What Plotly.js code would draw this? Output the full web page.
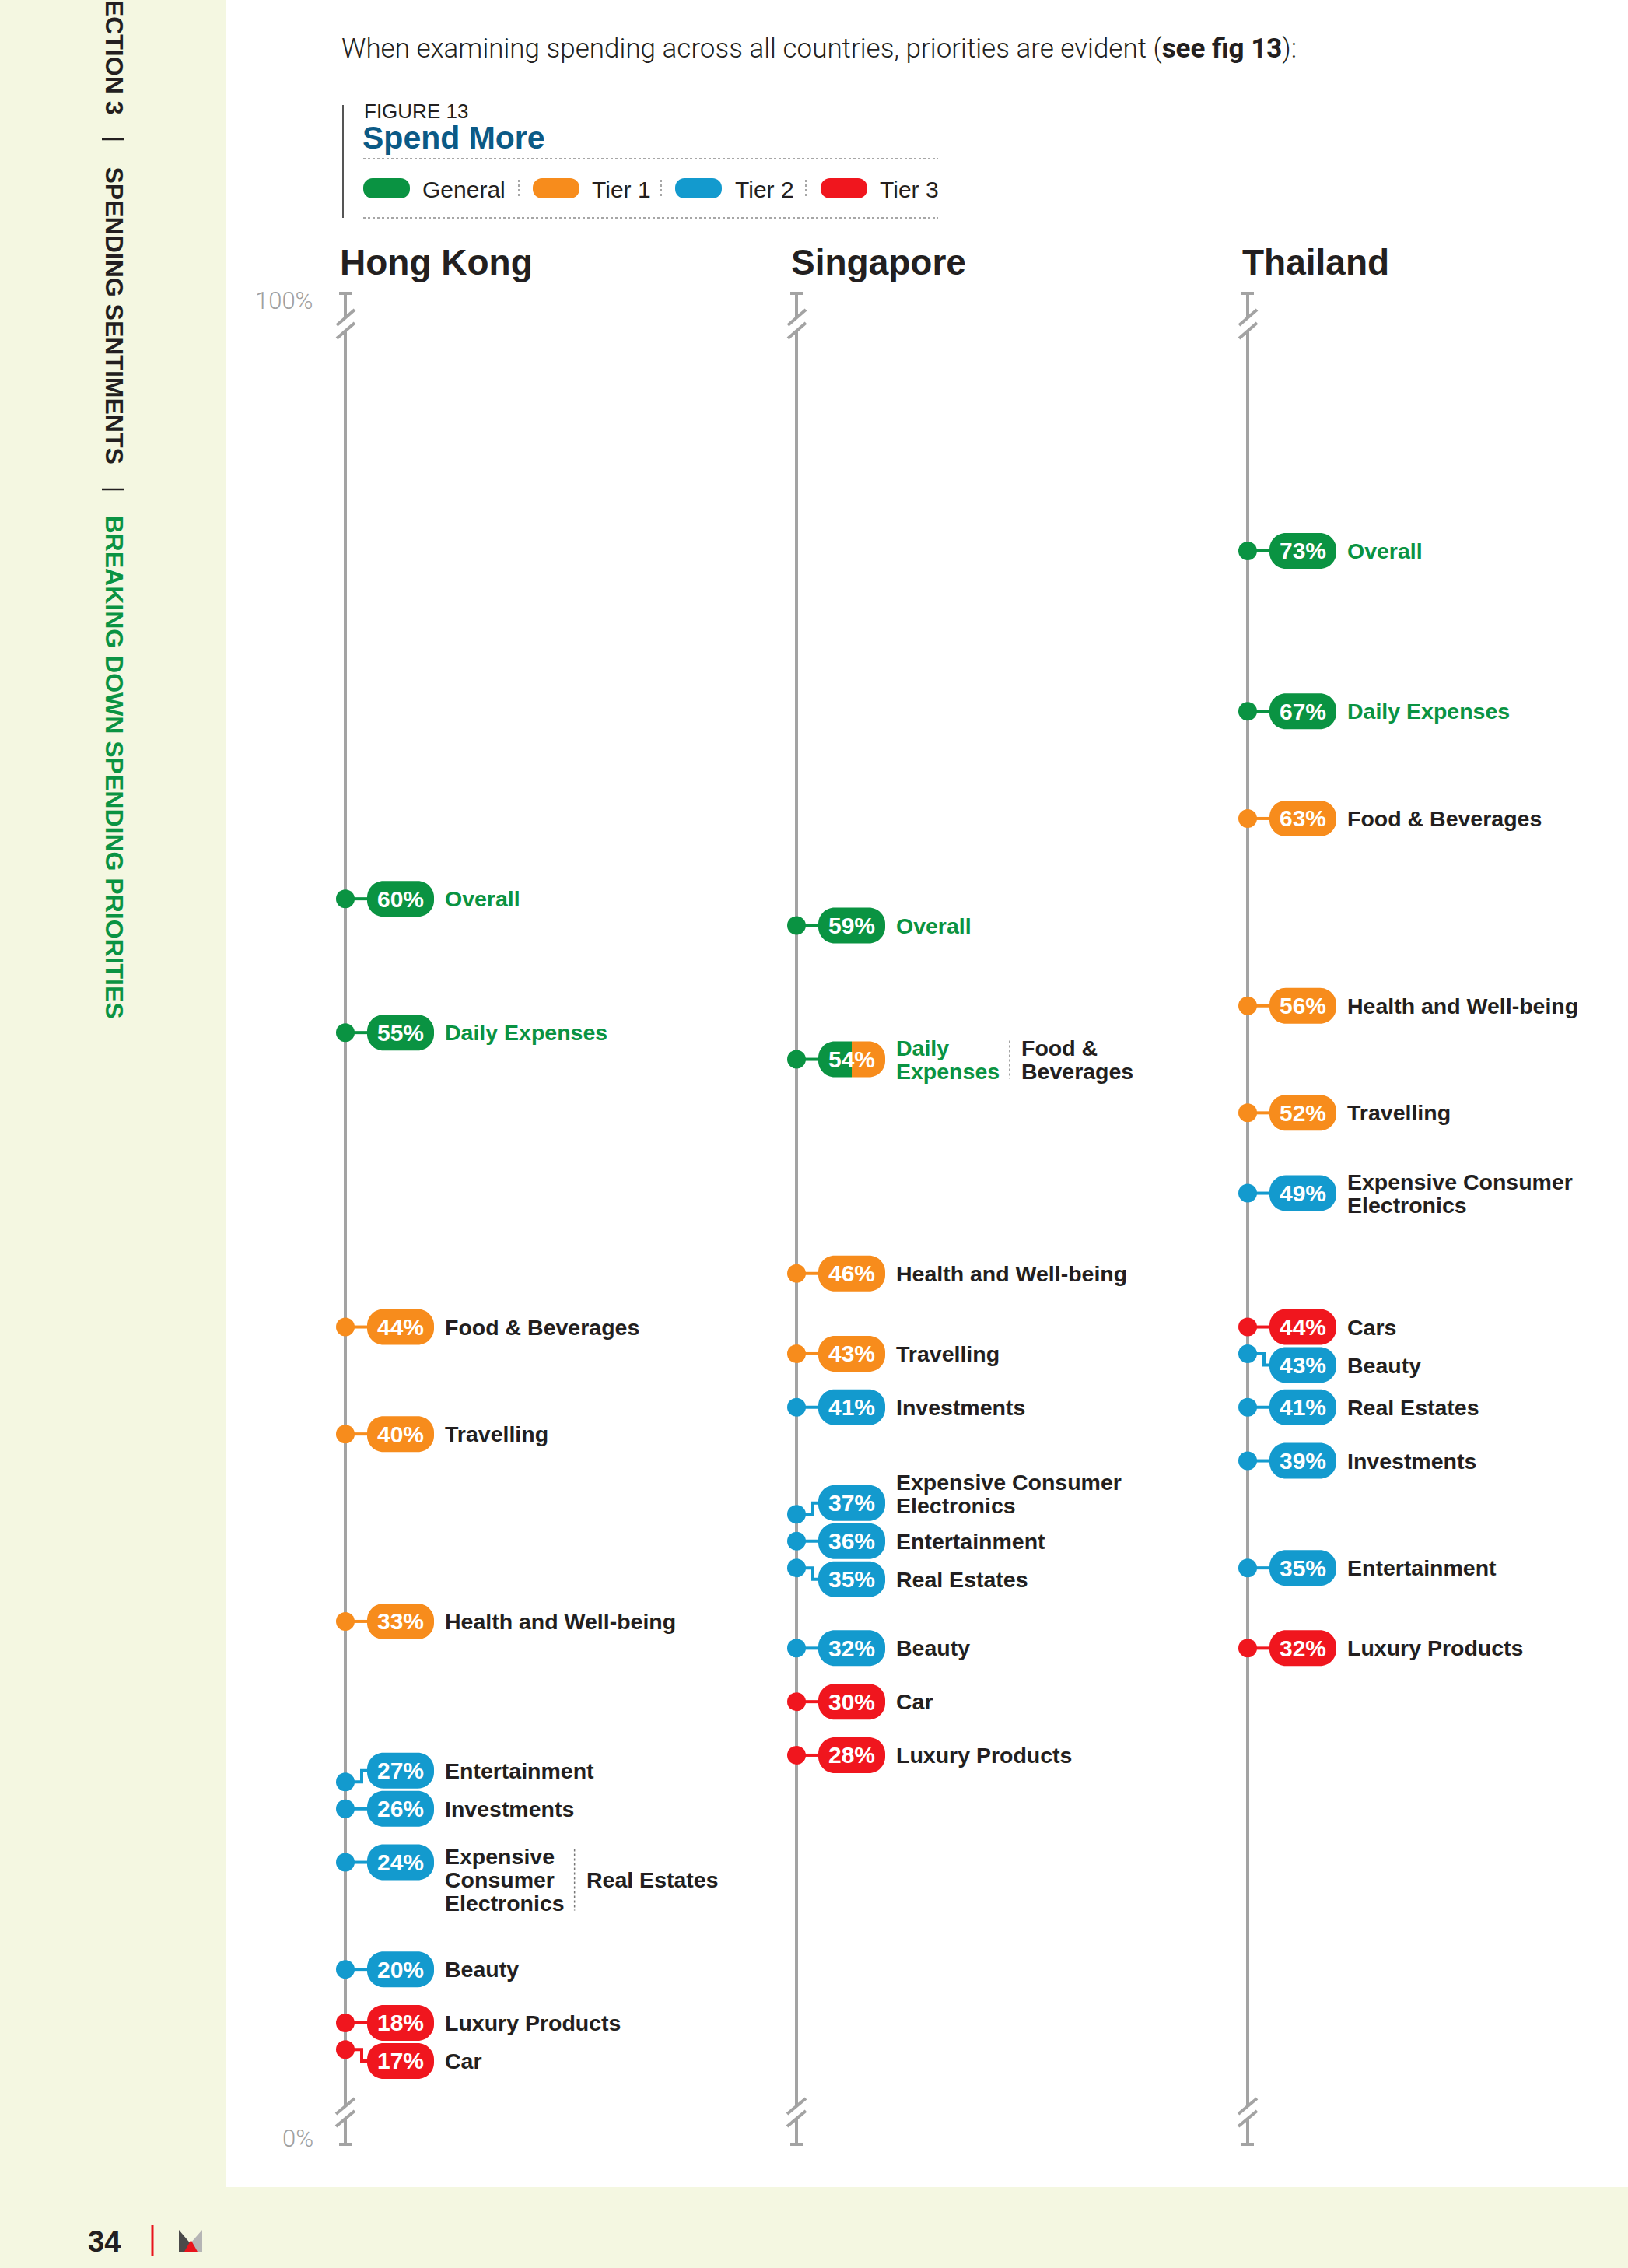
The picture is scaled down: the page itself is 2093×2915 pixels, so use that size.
<!DOCTYPE html>
<html>
<head>
<meta charset="utf-8">
<script src="https://cdn.plot.ly/plotly-3.0.1.min.js"></script>
<style>
  html, body { margin: 0; padding: 0; background: #f4f7e1; }
  #chart { width: 2093px; height: 2915px; }
</style>
</head>
<body>
<div id="chart"></div>
<script>
// ---------------- data ----------------
const countries = ['Hong Kong', 'Singapore', 'Thailand'];
const tierNames = ['General', 'Tier 1', 'Tier 2', 'Tier 3'];

const hkLabels = ['Overall', 'Daily Expenses', 'Food & Beverages', 'Travelling', 'Health and Well-being',
  'Entertainment', 'Investments', 'Expensive Consumer Electronics', 'Real Estates', 'Beauty',
  'Luxury Products', 'Car'];
const hkValues = [60, 55, 44, 40, 33, 27, 26, 24, 24, 20, 18, 17];
const hkTiers = ['General', 'General', 'Tier 1', 'Tier 1', 'Tier 1', 'Tier 2', 'Tier 2', 'Tier 2',
  'Tier 2', 'Tier 2', 'Tier 3', 'Tier 3'];

const sgLabels = ['Overall', 'Daily Expenses', 'Food & Beverages', 'Health and Well-being', 'Travelling',
  'Investments', 'Expensive Consumer Electronics', 'Entertainment', 'Real Estates', 'Beauty', 'Car',
  'Luxury Products'];
const sgValues = [59, 54, 54, 46, 43, 41, 37, 36, 35, 32, 30, 28];
const sgTiers = ['General', 'General', 'Tier 1', 'Tier 1', 'Tier 1', 'Tier 2', 'Tier 2', 'Tier 2',
  'Tier 2', 'Tier 2', 'Tier 3', 'Tier 3'];

const thLabels = ['Overall', 'Daily Expenses', 'Food & Beverages', 'Health and Well-being', 'Travelling',
  'Expensive Consumer Electronics', 'Cars', 'Beauty', 'Real Estates', 'Investments', 'Entertainment',
  'Luxury Products'];
const thValues = [73, 67, 63, 56, 52, 49, 44, 43, 41, 39, 35, 32];
const thTiers = ['General', 'General', 'Tier 1', 'Tier 1', 'Tier 1', 'Tier 2', 'Tier 3', 'Tier 2',
  'Tier 2', 'Tier 2', 'Tier 2', 'Tier 3'];

const axisTickLabels = ['100%', '0%'];

// ---------------- styling & layout constants ----------------
const W = 2093, H = 2915;
const SANS = '"Liberation Sans", Arial, sans-serif';
const LIGHT = 'Roboto, "Liberation Sans", sans-serif';
const INK = '#231f20';
const GREY = '#a3a3a3';
const CREAM = '#f4f7e1';
const tierColors = { 'General': '#0a9342', 'Tier 1': '#f78c1c', 'Tier 2': '#139ace', 'Tier 3': '#f0161e' };

const columnX = [444, 1024, 1604];          // axis position of each country column (px)
const PX_PER_PCT = 34.4;                    // vertical scale of the (broken) percentage axis
const Y_TOP = 93.58;                        // value sitting at the top edge of the page
const yRange = [Y_TOP - H / PX_PER_PCT, Y_TOP];
const vToPx = v => (Y_TOP - v) * PX_PER_PCT;
const pxToV = p => Y_TOP - p / PX_PER_PCT;

const PILL_GAP = 49, LINE = 30, LABEL_SIZE = 28.5;
// label block alignment for multi-line labels, and pills that stay level with their dot when crowded
const labelAnchors = { 'Hong Kong|24': 'top', 'Singapore|37': 'bottom' };
const pinnedPills = ['Hong Kong|26', 'Hong Kong|18', 'Singapore|36', 'Thailand|44'];

const shapes = [];
const annotations = [];

// ---------------- helpers ----------------
const fx = v => (v / W).toFixed(6);
const fy = v => (1 - v / H).toFixed(6);
const paperPt = (x, y) => fx(x) + ',' + fy(y);
const pixelPt = (x, y) => x.toFixed(2) + ',' + (-y).toFixed(2);

function roundRect(l, r, t, b, rL, rR, map) {
  const k = 0.5523;
  return 'M' + map(l + rL, t) +
    ' L' + map(r - rR, t) +
    ' C' + map(r - rR + k * rR, t) + ' ' + map(r, t + rR - k * rR) + ' ' + map(r, t + rR) +
    ' L' + map(r, b - rR) +
    ' C' + map(r, b - rR + k * rR) + ' ' + map(r - rR + k * rR, b) + ' ' + map(r - rR, b) +
    ' L' + map(l + rL, b) +
    ' C' + map(l + rL - k * rL, b) + ' ' + map(l, b - rL + k * rL) + ' ' + map(l, b - rL) +
    ' L' + map(l, t + rL) +
    ' C' + map(l, t + rL - k * rL) + ' ' + map(l + rL - k * rL, t) + ' ' + map(l + rL, t) + ' Z';
}

function seg(x0, y0, x1, y1, color, width, dash) {
  shapes.push({ type: 'line', xref: 'paper', yref: 'paper', x0: x0 / W, y0: 1 - y0 / H, x1: x1 / W, y1: 1 - y1 / H,
    line: { color: color, width: width, dash: dash || 'solid' }, layer: 'below' });
}

function poly(pts, fill, layer) {
  shapes.push({ type: 'path', xref: 'paper', yref: 'paper',
    path: 'M' + pts.map(p => paperPt(p[0], p[1])).join(' L') + ' Z',
    fillcolor: fill, line: { width: 0 }, layer: layer || 'above' });
}

function note(text, x, y, o) {
  annotations.push(Object.assign({
    text: text, x: x / W, y: 1 - y / H, xref: 'paper', yref: 'paper', showarrow: false,
    xanchor: 'left', yanchor: 'middle', font: { family: SANS, size: 28, color: INK }
  }, o || {}));
}

const ctx = document.createElement('canvas').getContext('2d');
function textWidth(s) {
  ctx.font = 'bold ' + LABEL_SIZE + 'px "Liberation Sans"';
  return ctx.measureText(s).width;
}
function wrap(text, maxW) {
  const lines = [];
  let cur = '';
  text.split(' ').forEach(w => {
    const t = cur ? cur + ' ' + w : w;
    if (cur && textWidth(t) > maxW) { lines.push(cur); cur = w; } else { cur = t; }
  });
  if (cur) lines.push(cur);
  return lines;
}

// items sharing one value share one pill
function groupPills(labels, values, tiers) {
  const order = values.map((v, i) => i).sort((a, b) => values[b] - values[a]);
  const pills = [];
  order.forEach(i => {
    const last = pills[pills.length - 1];
    if (last && last.value === values[i]) last.parts.push({ label: labels[i], tier: tiers[i] });
    else pills.push({ value: values[i], parts: [{ label: labels[i], tier: tiers[i] }] });
  });
  return pills;
}

// push overlapping pills apart; a crowded group keeps its pinned pill level with its dot,
// otherwise it is centred on the mean of its values
function spreadPills(pills, gap, country) {
  const clusters = pills.map(p => ({ items: [p] }));
  const place = c => {
    const j = c.items.findIndex(p => pinnedPills.includes(country + '|' + p.value));
    if (j >= 0) {
      c.start = vToPx(c.items[j].value) - j * gap;
    } else {
      const mean = c.items.reduce((s, p) => s + vToPx(p.value), 0) / c.items.length;
      c.start = mean - (c.items.length - 1) / 2 * gap;
    }
  };
  clusters.forEach(place);
  let merged = true;
  while (merged) {
    merged = false;
    for (let i = 0; i < clusters.length - 1; i++) {
      const a = clusters[i], b = clusters[i + 1];
      const aEnd = a.start + (a.items.length - 1) * gap;
      if (b.start - aEnd < gap) {
        a.items = a.items.concat(b.items);
        place(a);
        clusters.splice(i + 1, 1);
        merged = true;
        break;
      }
    }
  }
  clusters.forEach(c => c.items.forEach((p, k) => { p.py = c.start + k * gap; }));
}

// ---------------- page background ----------------
poly([[291, 0], [W, 0], [W, 2811], [291, 2811]], '#ffffff', 'below');

// side running head
note('SECTION 3', 146.5, 63, { xanchor: 'center', textangle: 90, font: { family: SANS, size: 32, color: INK, weight: 'bold' } });
seg(131, 179, 160, 179, INK, 2.5);
note('SPENDING SENTIMENTS', 146.5, 405, { xanchor: 'center', textangle: 90, font: { family: SANS, size: 32, color: INK, weight: 'bold' } });
seg(131, 629, 160, 629, INK, 2.5);
note('BREAKING DOWN SPENDING PRIORITIES', 146.5, 986, { xanchor: 'center', textangle: 90, font: { family: SANS, size: 32, color: tierColors['General'], weight: 'bold' } });

// footer
note('34', 134, 2881, { xanchor: 'center', font: { family: SANS, size: 38, color: INK, weight: 'bold' } });
seg(196, 2860, 196, 2900, '#e8141c', 3);
poly([[230, 2866], [247, 2886], [238, 2894], [230, 2894]], '#4a4a4a');
poly([[260, 2866], [260, 2894], [254, 2894], [245, 2883]], '#b5b5b5');
poly([[237, 2894], [245.5, 2879], [254, 2894]], '#e8141c');
seg(241, 2894, 246, 2885, '#ffffff', 1.5);
seg(246, 2894, 249, 2889, '#ffffff', 1.5);

// intro sentence
note('When examining spending across all countries, priorities are evident (<b>see fig 13</b>):', 437, 63,
  { font: { family: LIGHT, size: 35, color: INK, weight: 300 } });

// figure heading and legend
seg(441, 135, 441, 280, '#555555', 2);
note('FIGURE 13', 466, 143, { font: { family: SANS, size: 26, color: INK } });
note('Spend More', 464, 177, { font: { family: SANS, size: 41, color: '#0b5a86', weight: 'bold' } });
seg(467, 204, 1206, 204, '#8a8a8a', 1.5, 'dot');
seg(467, 280, 1206, 280, '#8a8a8a', 1.5, 'dot');
const legendPillX = [467, 685, 868, 1055];
const legendTextX = [541, 759, 943, 1129];
const legendSepX = [667, 850, 1036];
tierNames.forEach((t, i) => {
  shapes.push({ type: 'path', xref: 'paper', yref: 'paper', layer: 'above',
    path: roundRect(legendPillX[i], legendPillX[i] + 60, 229, 255, 12, 12, paperPt),
    fillcolor: tierColors[t], line: { width: 0 } });
  note(t, legendTextX[i], 243, { font: { family: SANS, size: 30, color: INK } });
});
legendSepX.forEach(x => seg(x, 231, x, 255, '#8a8a8a', 1.5, 'dot'));

// ---------------- broken percentage axes ----------------
columnX.forEach(ax => {
  seg(ax - 8, 377, ax + 8, 377, GREY, 4);
  seg(ax, 377, ax, 408, GREY, 4);
  seg(ax - 11, 418, ax + 12, 398, GREY, 4);
  seg(ax - 11, 435, ax + 12, 415, GREY, 4);
  seg(ax, 425, ax, 2707, GREY, 4);
  seg(ax - 12, 2717, ax + 12, 2697, GREY, 4);
  seg(ax - 12, 2733, ax + 12, 2713, GREY, 4);
  seg(ax, 2723, ax, 2756, GREY, 4);
  seg(ax - 8, 2756, ax + 8, 2756, GREY, 4);
});
note(axisTickLabels[0], 405, 387, { xanchor: 'right', font: { family: LIGHT, size: 31, color: '#a0a0a0', weight: 300 } });
note(axisTickLabels[1], 405, 2748, { xanchor: 'right', font: { family: LIGHT, size: 31, color: '#a0a0a0', weight: 300 } });

// ---------------- columns ----------------
const countryData = [
  { labels: hkLabels, values: hkValues, tiers: hkTiers },
  { labels: sgLabels, values: sgValues, tiers: sgTiers },
  { labels: thLabels, values: thValues, tiers: thTiers }
];

const dotX = [], dotY = [], dotC = [], dotText = [];

countryData.forEach((cd, ci) => {
  const ax = columnX[ci];
  const country = countries[ci];
  note(country, ax - 9, 337, { font: { family: SANS, size: 46, color: INK, weight: 'bold' } });

  const pills = groupPills(cd.labels, cd.values, cd.tiers);
  spreadPills(pills, PILL_GAP, country);

  pills.forEach(p => {
    const yv = pxToV(p.py);
    const mainColor = tierColors[p.parts[0].tier];
    dotX.push(ax); dotY.push(p.value); dotC.push(mainColor);
    dotText.push(country + ': ' + p.parts.map(pt => pt.label).join(', ') + ' ' + p.value + '%');

    // connector from the axis dot to the pill
    const shifted = Math.abs(p.py - vToPx(p.value)) > 0.5;
    const path = shifted
      ? 'M' + ax + ',' + p.value + ' L' + (ax + 21) + ',' + p.value + ' L' + (ax + 21) + ',' + yv + ' L' + (ax + 32) + ',' + yv
      : 'M' + ax + ',' + p.value + ' L' + (ax + 32) + ',' + p.value;
    shapes.push({ type: 'path', xref: 'x', yref: 'y', path: path, line: { color: mainColor, width: 4 }, layer: 'below' });

    // value pill (split in two colours when it carries two tiers)
    const pillTiers = [...new Set(p.parts.map(pt => pt.tier))];
    const L = ax + 28, R = ax + 114, M = (L + R) / 2;
    const pillBase = { type: 'path', xref: 'x', yref: 'y', xsizemode: 'pixel', ysizemode: 'pixel',
      xanchor: ax, yanchor: yv, line: { width: 0 }, layer: 'above' };
    if (pillTiers.length === 1) {
      shapes.push(Object.assign({}, pillBase, { path: roundRect(L - ax, R - ax, -23, 23, 21, 21, pixelPt), fillcolor: mainColor }));
    } else {
      shapes.push(Object.assign({}, pillBase, { path: roundRect(L - ax, M - ax, -23, 23, 21, 0, pixelPt), fillcolor: tierColors[pillTiers[0]] }));
      shapes.push(Object.assign({}, pillBase, { path: roundRect(M - ax, R - ax, -23, 23, 0, 21, pixelPt), fillcolor: tierColors[pillTiers[1]] }));
    }
    annotations.push({ text: p.value + '%', x: ax + 71, y: yv, xref: 'x', yref: 'y', showarrow: false,
      xanchor: 'center', yanchor: 'middle', font: { family: SANS, size: 30, color: '#ffffff', weight: 'bold' } });

    // category labels
    const combined = p.parts.length > 1;
    const parts = p.parts.map(pt => ({ tier: pt.tier, lines: wrap(pt.label, combined ? 190 : 400) }));
    const align = labelAnchors[country + '|' + p.value] || 'center';
    const n0 = parts[0].lines.length;
    const off0 = parts[0].lines.map((_, i) =>
      align === 'top' ? -8 + i * LINE : align === 'bottom' ? 3 - (n0 - 1 - i) * LINE : (i - (n0 - 1) / 2) * LINE);
    const mid0 = (off0[0] + off0[n0 - 1]) / 2;
    let x = ax + 126;
    parts.forEach((part, k) => {
      const n = part.lines.length;
      const offs = k === 0 ? off0 : part.lines.map((_, i) => mid0 + (i - (n - 1) / 2) * LINE);
      const color = part.tier === 'General' ? tierColors['General'] : INK;
      part.lines.forEach((ln, i) => {
        annotations.push({ text: ln, x: x, y: pxToV(p.py + offs[i]), xref: 'x', yref: 'y', showarrow: false,
          xanchor: 'left', yanchor: 'middle', font: { family: SANS, size: LABEL_SIZE, color: color, weight: 'bold' } });
      });
      if (k < parts.length - 1) {
        const w = Math.max(...part.lines.map(textWidth));
        const sx = x + w + 15;
        const allOffs = off0.concat(parts.slice(1).flatMap(pp => pp.lines.map((_, i) => mid0 + (i - (pp.lines.length - 1) / 2) * LINE)));
        const top = p.py + Math.min(...allOffs) - 9, bot = p.py + Math.max(...allOffs) + 10;
        shapes.push({ type: 'line', xref: 'x', yref: 'y', x0: sx, x1: sx, y0: pxToV(top), y1: pxToV(bot),
          line: { color: '#777777', width: 1.5, dash: 'dot' }, layer: 'above' });
        x = sx + 13;
      }
    });
  });
});

// ---------------- plot ----------------
const dots = {
  type: 'scatter', mode: 'markers', x: dotX, y: dotY, text: dotText, hoverinfo: 'text',
  marker: { size: 24, color: dotC, line: { width: 0 } }, cliponaxis: false, showlegend: false
};

const layout = {
  width: W, height: H, autosize: false,
  margin: { l: 0, r: 0, t: 0, b: 0, pad: 0 },
  paper_bgcolor: CREAM, plot_bgcolor: 'rgba(0,0,0,0)',
  showlegend: false,
  xaxis: { range: [0, W], visible: false, fixedrange: true },
  yaxis: { range: yRange, visible: false, fixedrange: true },
  shapes: shapes,
  annotations: annotations
};

Plotly.newPlot('chart', [dots], layout, { staticPlot: true, displayModeBar: false });
</script>
</body>
</html>
